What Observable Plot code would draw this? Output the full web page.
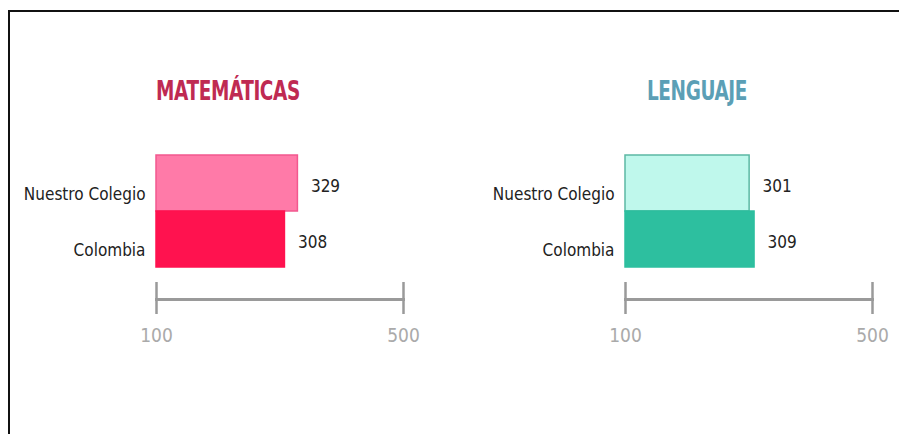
<!DOCTYPE html>
<html>
<head>
<meta charset="utf-8">
<script src="https://cdn.jsdelivr.net/npm/d3@7"></script>
<script src="https://cdn.jsdelivr.net/npm/@observablehq/plot@0.6"></script>
<style>
  html, body { margin: 0; padding: 0; background: #fff; overflow: hidden; }
  #wrap { position: relative; width: 899px; height: 434px; overflow: hidden; }
  #border { position: absolute; left: 8px; top: 10px; width: 920px; height: 440px; border: 2px solid #111; box-sizing: border-box; }
  .panel { position: absolute; top: 0; }
  .title { position: absolute; top: 76px; font-family: "DejaVu Sans Condensed", "DejaVu Sans", sans-serif; font-weight: bold; font-size: 26px; letter-spacing: -0.5px; text-align: center; width: 240px; transform: scaleX(0.79); transform-origin: center; }
</style>
</head>
<body>
<div id="wrap">
  <div id="border"></div>
</div>
<script>
const categories = ["Nuestro Colegio", "Colombia"];
const subjects = ["MATEMÁTICAS", "LENGUAJE"];
const matematicas = [329, 308];
const lenguaje = [301, 309];
const xTicks = [100, 500];
const mathFills = ["#ff7aa8", "#ff124f"];
const mathStrokes = ["#f2588f", "#ff124f"];
const langFills = ["#bff8ec", "#2dbf9f"];
const langStrokes = ["#5cb8a4", "#2dbf9f"];
const titleColors = ["#bf2a52", "#5b9fb6"];

const font = '"DejaVu Sans Condensed", "DejaVu Sans", sans-serif';

function panel(values, fills, strokes, ml, mr) {
  const data = categories.map((c, i) => ({cat: c, value: values[i], fill: fills[i], stroke: strokes[i]}));
  return Plot.plot({
    width: 449, height: 434,
    marginLeft: ml, marginRight: mr, marginTop: 20, marginBottom: 135,
    x: {domain: [xTicks[0], xTicks[1]], label: null},
    y: {domain: categories, range: [155, 267], padding: 0, label: null},
    style: {fontFamily: font, background: "transparent", overflow: "visible"},
    marks: [
      Plot.barX(data, {y: "cat", x1: xTicks[0], x2: "value", fill: "fill", stroke: "stroke", strokeWidth: 1.5}),
      Plot.text(data, {y: "cat", x: "value", text: d => String(d.value), textAnchor: "start", dx: 13, dy: 3, fontSize: 17, fill: "#222"}),
      Plot.axisY({tickSize: 0, tickPadding: 11, fontSize: 17, fill: "#222", dy: 11}),
      Plot.frame({anchor: "bottom", stroke: "#9a9a9a", strokeWidth: 3}),
      Plot.ruleX(xTicks, {stroke: "#9a9a9a", strokeWidth: 2.5, insetTop: 262, insetBottom: -15}),
      Plot.axisX({ticks: xTicks, tickSize: 0, tickPadding: 29, fontSize: 19, fill: "#aaa"})
    ]
  });
}

const wrap = document.getElementById("wrap");
const left = panel(matematicas, mathFills, mathStrokes, 156, 46);
left.classList.add("panel"); left.style.left = "0px";
const right = panel(lenguaje, langFills, langStrokes, 175, 27);
right.classList.add("panel"); right.style.left = "450px";
wrap.appendChild(left);
wrap.appendChild(right);

const centers = [228, 697];
subjects.forEach((s, i) => {
  const t = document.createElement("div");
  t.className = "title";
  t.textContent = s;
  t.style.color = titleColors[i];
  t.style.left = (centers[i] - 120) + "px";
  wrap.appendChild(t);
});
</script>
</body>
</html>
